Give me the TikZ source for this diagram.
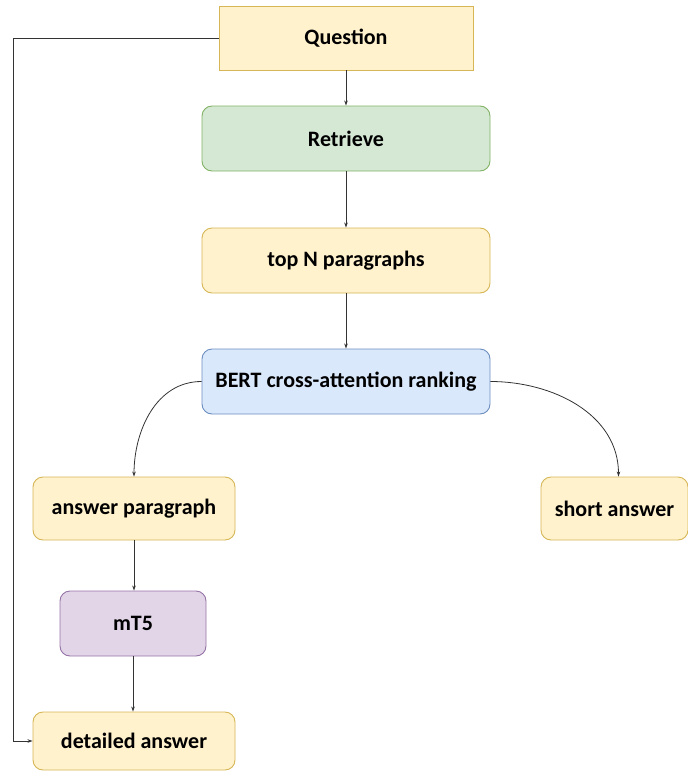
\documentclass[tikz,border=0pt]{standalone}
\usepackage{fontspec}
\setmainfont{Carlito}
\usetikzlibrary{arrows.meta}
\definecolor{yfill}{HTML}{FFF2CC}
\definecolor{yline}{HTML}{D6B656}
\definecolor{gfill}{HTML}{D5E8D4}
\definecolor{gline}{HTML}{82B366}
\definecolor{bfill}{HTML}{DAE8FC}
\definecolor{bline}{HTML}{6C8EBF}
\definecolor{pfill}{HTML}{E1D5E7}
\definecolor{pline}{HTML}{9673A6}
\definecolor{arr}{HTML}{333333}

\begin{document}
\begin{tikzpicture}[x=1pt,y=-1pt,
  box/.style={draw, line width=0.9pt, rounded corners=10pt, inner sep=0pt,
    font=\fontsize{22}{26}\selectfont\bfseries},
  ybox/.style={box, fill=yfill, draw=yline},
  gbox/.style={box, fill=gfill, draw=gline},
  bbox/.style={box, fill=bfill, draw=bline},
  pbox/.style={box, fill=pfill, draw=pline},
  link/.style={draw=arr, line width=0.8pt, -{Stealth[length=5pt,width=3.5pt]}}]
\useasboundingbox (0,0) rectangle (688,771);
\node[ybox, rounded corners=0pt, minimum width=254pt, minimum height=64pt] (question) at (346,38) {Question};
\node[gbox, minimum width=288pt, minimum height=65pt] (retrieve) at (346,138.5) {Retrieve};
\node[ybox, minimum width=288pt, minimum height=65pt] (topn) at (346,260.5) {top N paragraphs};
\node[bbox, minimum width=288pt, minimum height=65pt] (bert) at (346,381.5) {BERT cross-attention ranking};
\node[ybox, minimum width=202pt, minimum height=63pt] (anspar) at (134,508.5) {answer paragraph};
\node[ybox, minimum width=147pt, minimum height=63pt] (short) at (614.5,508.5) {short answer};
\node[pbox, minimum width=146pt, minimum height=65pt] (mtfive) at (133,623.5) {mT5};
\node[ybox, minimum width=202pt, minimum height=58pt] (detail) at (134,741) {detailed answer};
\coordinate (side) at (13,0);
\draw[link] (question) -- (retrieve);
\draw[link] (retrieve) -- (topn);
\draw[link] (topn) -- (bert);
\draw[link] (bert.west) to[out=180,in=90] (anspar.north);
\draw[link] (bert.east) to[out=0,in=90] ([xshift=4pt]short.north);
\draw[link] (anspar.south) -- (anspar.south |- mtfive.north);
\draw[link] (mtfive.south) -- (mtfive.south |- detail.north);
\draw[link] (question.west) -- (side |- question.west) -- (side |- detail.west) -- (detail.west);
\end{tikzpicture}
\end{document}
